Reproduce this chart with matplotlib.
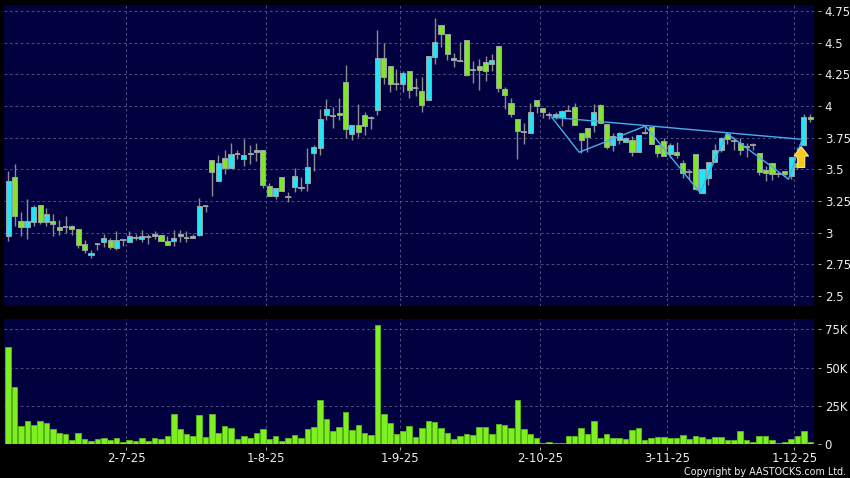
import numpy as np
import matplotlib
matplotlib.use("Agg")
import matplotlib.pyplot as plt
from matplotlib.patches import FancyArrow
from matplotlib.ticker import FuncFormatter

# daily OHLC (oldest first)
opens = [2.976, 3.437, 3.092, 3.042, 3.084, 3.216, 3.084, 3.089, 3.042, 3.045,
         3.05, 3.026, 2.908, 2.821, 2.913, 2.929, 2.939, 2.876, 2.939, 2.929,
         2.955, 2.947, 2.97, 2.989, 2.979, 2.934, 2.937, 2.989, 2.955, 2.955,
         2.979, 3.21, 3.571, 3.405, 3.589, 3.508, 3.624, 3.579, 3.624, 3.634,
         3.65, 3.366, 3.287, 3.437, 3.284, 3.363, 3.35, 3.389, 3.632, 3.666,
         3.926, 3.918, 3.947, 4.187, 3.776, 3.853, 3.932, 3.903, 3.966, 4.382,
         4.318, 4.174, 4.174, 4.274, 4.139, 4.116, 4.045, 4.384, 4.637, 4.566,
         4.363, 4.358, 4.518, 4.282, 4.318, 4.35, 4.329, 4.471, 4.132, 4.026,
         3.895, 3.795, 3.784, 4.045, 3.982, 3.929, 3.916, 3.913, 3.958, 3.995,
         3.789, 3.829, 3.853, 4.011, 3.858, 3.692, 3.732, 3.718, 3.732, 3.639,
         3.79, 3.832, 3.692, 3.726, 3.618, 3.634, 3.553, 3.479, 3.618, 3.311,
         3.429, 3.555, 3.65, 3.776, 3.724, 3.711, 3.684, 3.692, 3.632, 3.495,
         3.553, 3.463, 3.487, 3.447, 3.55, 3.692, 3.916]
highs = [3.49, 3.542, 3.166, 3.268, 3.216, 3.22, 3.195, 3.145, 3.10, 3.132,
         3.063, 3.03, 2.942, 2.863, 2.913, 2.989, 2.958, 3.013, 2.95, 3.013,
         2.99, 3.021, 2.987, 3.013, 2.982, 2.971, 3.021, 3.021, 3.013, 2.987,
         3.271, 3.21, 3.571, 3.611, 3.653, 3.705, 3.653, 3.739, 3.692, 3.705,
         3.653, 3.395, 3.35, 3.437, 3.318, 3.508, 3.437, 3.666, 3.689, 3.976,
         4.055, 3.995, 4.061, 4.324, 3.853, 4.013, 3.955, 3.921, 4.60, 4.497,
         4.318, 4.29, 4.279, 4.274, 4.218, 4.226, 4.392, 4.697, 4.637, 4.566,
         4.418, 4.505, 4.518, 4.355, 4.371, 4.395, 4.413, 4.471, 4.147, 4.066,
         3.895, 3.868, 4.024, 4.045, 3.982, 3.955, 3.955, 3.968, 4.008, 4.021,
         3.789, 3.829, 4.016, 4.016, 3.858, 3.784, 3.797, 3.755, 3.766, 3.768,
         3.853, 3.832, 3.692, 3.747, 3.705, 3.718, 3.574, 3.50, 3.618, 3.503,
         3.561, 3.70, 3.755, 3.795, 3.753, 3.745, 3.711, 3.711, 3.632, 3.526,
         3.553, 3.482, 3.487, 3.595, 3.68, 3.937, 3.937]
lows = [2.937, 3.053, 2.976, 2.947, 3.053, 3.068, 3.053, 2.976, 2.982, 2.995,
        2.984, 2.876, 2.837, 2.803, 2.861, 2.884, 2.868, 2.863, 2.895, 2.929,
        2.94, 2.929, 2.913, 2.953, 2.937, 2.905, 2.897, 2.929, 2.929, 2.955,
        2.971, 3.16, 3.287, 3.405, 3.461, 3.508, 3.579, 3.524, 3.539, 3.566,
        3.355, 3.292, 3.266, 3.326, 3.245, 3.324, 3.332, 3.332, 3.484, 3.616,
        3.887, 3.824, 3.887, 3.745, 3.729, 3.758, 3.771, 3.821, 3.932, 4.171,
        4.11, 4.126, 4.11, 4.061, 4.079, 3.95, 4.045, 4.329, 4.463, 4.363,
        4.305, 4.358, 4.237, 4.184, 4.124, 4.20, 4.274, 4.111, 3.979, 3.916,
        3.579, 3.70, 3.784, 3.942, 3.903, 3.895, 3.895, 3.842, 3.958, 3.85,
        3.632, 3.639, 3.797, 3.868, 3.663, 3.647, 3.70, 3.718, 3.605, 3.634,
        3.782, 3.703, 3.60, 3.603, 3.587, 3.587, 3.434, 3.421, 3.337, 3.311,
        3.376, 3.555, 3.637, 3.703, 3.65, 3.613, 3.60, 3.653, 3.453, 3.41,
        3.416, 3.442, 3.437, 3.421, 3.50, 3.692, 3.876]
closes = [3.405, 3.129, 3.042, 3.092, 3.20, 3.084, 3.145, 3.066, 3.018, 3.045,
          3.026, 2.903, 2.861, 2.839, 2.913, 2.958, 2.889, 2.939, 2.939, 2.971,
          2.965, 2.971, 2.97, 2.971, 2.937, 2.905, 2.955, 2.971, 2.955, 2.971,
          3.208, 3.21, 3.479, 3.547, 3.508, 3.624, 3.624, 3.616, 3.632, 3.65,
          3.379, 3.292, 3.35, 3.326, 3.284, 3.445, 3.36, 3.516, 3.676, 3.897,
          3.974, 3.918, 3.926, 3.818, 3.853, 3.792, 3.845, 3.903, 4.382, 4.226,
          4.171, 4.174, 4.258, 4.124, 4.139, 4.005, 4.392, 4.503, 4.566, 4.408,
          4.376, 4.358, 4.242, 4.282, 4.284, 4.274, 4.361, 4.142, 4.087, 3.934,
          3.80, 3.795, 3.95, 3.997, 3.95, 3.929, 3.939, 3.958, 3.958, 3.85,
          3.729, 3.753, 3.953, 3.868, 3.679, 3.763, 3.784, 3.75, 3.639, 3.768,
          3.79, 3.703, 3.632, 3.603, 3.689, 3.613, 3.474, 3.479, 3.345, 3.503,
          3.561, 3.653, 3.75, 3.737, 3.724, 3.65, 3.674, 3.692, 3.479, 3.468,
          3.463, 3.463, 3.463, 3.595, 3.52, 3.916, 3.895]
# volume in thousands
volumes = [63.6, 37.6, 12.2, 15.3, 12.9, 15.1, 14.0, 9.8, 7.4, 6.8,
           2.8, 7.2, 3.7, 2.4, 3.7, 3.9, 2.6, 3.9, 1.3, 2.6,
           2.0, 4.4, 2.2, 4.2, 3.7, 5.2, 20.1, 10.3, 6.8, 5.5,
           19.0, 4.6, 19.5, 7.4, 12.2, 10.5, 3.7, 5.7, 4.4, 7.4,
           10.1, 3.3, 5.5, 2.4, 4.4, 6.1, 3.9, 9.8, 11.2, 28.9,
           16.6, 8.5, 11.6, 20.8, 9.2, 12.9, 7.7, 5.9, 77.9, 20.1,
           13.8, 7.0, 8.7, 12.2, 4.6, 10.9, 15.5, 14.7, 10.7, 7.7,
           3.3, 5.7, 7.0, 6.3, 11.6, 11.2, 6.8, 13.1, 12.7, 10.5,
           29.1, 9.8, 7.0, 4.4, 1.1, 1.3, 0.9, 0.9, 5.2, 5.2,
           10.9, 6.8, 15.5, 3.9, 7.0, 3.9, 3.9, 3.3, 9.6, 10.7,
           2.6, 3.9, 5.0, 4.6, 4.4, 4.4, 6.1, 3.7, 5.5, 4.6,
           3.7, 4.8, 5.0, 2.8, 2.8, 8.7, 3.1, 1.7, 5.7, 5.7,
           2.8, 0.9, 1.7, 3.7, 5.5, 9.0, 1.5]

# month ticks (boundary before first trading day of month)
tick_pos = [18.5, 40.5, 61.5, 83.5, 103.5, 123.5]
tick_labels = ["2-7-25", "1-8-25", "1-9-25", "2-10-25", "3-11-25", "1-12-25"]

# zigzag pattern line and neckline
zig_x = [85.4, 89.7, 100.1, 108.7, 112.9, 122.6, 124.7]
zig_y = [3.911, 3.635, 3.842, 3.317, 3.785, 3.422, 3.732]
neck_x = [85.4, 124.7]
neck_y = [3.911, 3.737]

# breakout arrow
arrow_x, arrow_y0, arrow_y1 = 124.6, 3.515, 3.68

BG = "#010140"
GRID = "#545484"
UP = "#22e6f4"
DOWN = "#80e628"
WICK = "#8c8c8c"

o = np.array(opens); h = np.array(highs); l = np.array(lows); c = np.array(closes)
x = np.arange(len(o))

fig = plt.figure(figsize=(8.5, 4.78), dpi=100, facecolor="black")
ax = fig.add_axes([3.5 / 850, 1 - 306 / 478, 810.8 / 850, 301 / 478])
axv = fig.add_axes([3.5 / 850, 1 - 444.3 / 478, 810.8 / 850, 125.3 / 478], sharex=ax)

for a in (ax, axv):
    a.set_facecolor(BG)
    for s in a.spines.values():
        s.set_visible(False)
    a.yaxis.tick_right()
    a.spines["right"].set_position(("outward", 3))
    a.tick_params(axis="y", length=2.5, width=0.8, color="#a0a0a0",
                  labelcolor="#ececec", labelsize=8.5, pad=2)
    for p in tick_pos:
        a.axvline(p, color=GRID, lw=0.65, ls=(0, (3, 3)), zorder=1)
    a.grid(axis="y", color=GRID, lw=0.65, ls=(0, (3, 3)), zorder=1)
    a.set_axisbelow(True)

# candles
ax.vlines(x, l, h, color=WICK, lw=1.0, zorder=2)
body_col = np.where(c > o, UP, np.where(c < o, DOWN, WICK))
ax.bar(x, np.abs(c - o), bottom=np.minimum(o, c), width=0.8,
       color=body_col, edgecolor="#9aa4a4", lw=0.7, zorder=3)
doji = c == o
ax.hlines(o[doji], x[doji] - 0.45, x[doji] + 0.45, color="#a0a0a0", lw=1.3, zorder=3)

ax.plot(zig_x, zig_y, color="#48aee8", lw=1.0, zorder=4)
ax.plot(neck_x, neck_y, color="#48aee8", lw=1.0, zorder=4)
ax.add_patch(FancyArrow(arrow_x, arrow_y0, 0, arrow_y1 - arrow_y0, width=1.1,
                        head_width=2.3, head_length=0.075, length_includes_head=True,
                        fc="#f7c81e", ec="#ffe47a", lw=0.8, zorder=5))

ax.set_xlim(-0.75, 126.65)
ax.set_ylim(2.422, 4.797)
ax.set_yticks(np.arange(2.5, 4.76, 0.25))
ax.yaxis.set_major_formatter(FuncFormatter(lambda v, p: "%g" % round(v, 2)))
ax.tick_params(axis="x", bottom=False, labelbottom=False)

# volume
axv.bar(x, volumes, width=0.88, color="#7ef022", edgecolor="#5aba16", lw=0.6, zorder=2)
axv.set_ylim(0, 81.8)
axv.set_yticks([0, 25, 50, 75])
axv.yaxis.set_major_formatter(FuncFormatter(lambda v, p: "0" if v == 0 else "%dK" % v))
axv.set_xticks(tick_pos)
axv.set_xticklabels(tick_labels)
axv.spines["bottom"].set_position(("outward", 2))
axv.tick_params(axis="x", length=2.5, width=0.8, color="#a0a0a0",
                labelcolor="#ececec", labelsize=8.5, pad=1)

fig.text(846 / 850, 1 - 472 / 478, "Copyright by AASTOCKS.com Ltd.",
         ha="right", va="center", color="#f0f0f0", fontsize=6.9)

fig.savefig("out.png", dpi=100, facecolor="black")
